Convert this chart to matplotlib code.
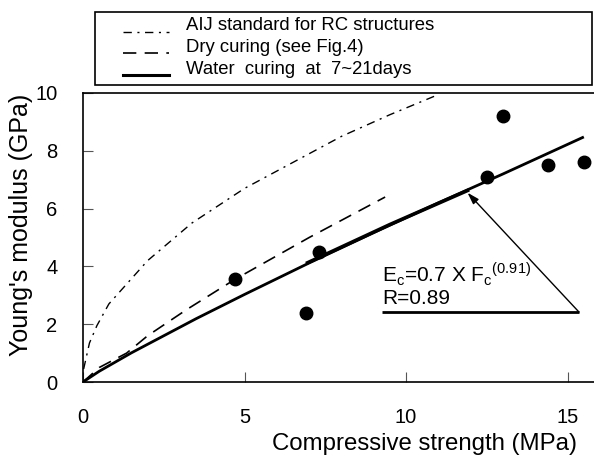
import matplotlib
matplotlib.use('Agg')
import matplotlib.pyplot as plt
from matplotlib.lines import Line2D
from matplotlib.patches import Rectangle

# measured points (compressive strength MPa, Young's modulus GPa)
strength = [4.7, 6.9, 7.3, 12.5, 13.0, 14.4, 15.5]
modulus = [3.55, 2.4, 4.5, 7.1, 9.2, 7.5, 7.6]

# AIJ standard curve
aij_x = [0.02, 0.2, 0.43, 0.8, 1.36, 2.0, 3.37, 5.0, 6.5, 8.0, 9.5, 10.9]
aij_y = [0.45, 1.35, 1.95, 2.7, 3.4, 4.2, 5.5, 6.7, 7.6, 8.5, 9.25, 9.9]

# dry curing curve
dry_x = [0, 0.5, 1.35, 2.0, 3.2, 4.7, 7.0, 9.35]
dry_y = [0, 0.5, 1.0, 1.6, 2.5, 3.55, 5.0, 6.4]

# water curing regression line
water_x = [0, 0.5, 1.5, 3.5, 5.0, 7.0, 9.0, 11.0, 13.0, 15.5]
water_y = [0, 0.37, 1.01, 2.19, 3.03, 4.12, 5.17, 6.2, 7.2, 8.48]
# overdrawn (thick) part of the regression line
thick_x = [6.9, 9.5, 11.95]
thick_y = [4.1, 5.45, 6.65]

legend_labels = ['AIJ standard for RC structures', 'Dry curing (see Fig.4)',
                 'Water  curing  at  7~21days']

eq_text = r'E$_\mathregular{c}$=0.7 X F$_\mathregular{c}$$^\mathregular{(0.91)}$'
r_text = 'R=0.89'
note_x, note_y1, note_y2 = 9.25, 3.46, 2.70
bar_x0, bar_x1, bar_y = 9.25, 15.35, 2.42
arrow_tip = (11.9, 6.55)

plt.rcParams['font.family'] = ['Liberation Sans', 'DejaVu Sans']

W, H = 594, 458
fig = plt.figure(figsize=(W / 100, H / 100), dpi=100)
ax = fig.add_axes([83 / W, (H - 382) / H, (600 - 83) / W, (382 - 93) / H])

ax.plot(aij_x, aij_y, color='black', lw=1.0, dashes=(6, 4, 1.5, 4))
ax.plot(dry_x, dry_y, color='black', lw=1.2, dashes=(8, 5))
ax.plot(water_x, water_y, color='black', lw=2.0, solid_capstyle='butt')
ax.plot(thick_x, thick_y, color='black', lw=2.6, solid_capstyle='butt')
ax.plot(strength, modulus, 'o', color='black', ms=9, clip_on=False)

ax.text(note_x, note_y1, eq_text, fontsize=15, va='baseline')
ax.text(note_x, note_y2, r_text, fontsize=15, va='baseline')
ax.plot([bar_x0, bar_x1], [bar_y, bar_y], color='black', lw=2.0, solid_capstyle='butt')
ax.annotate('', xy=arrow_tip, xytext=(bar_x1, bar_y),
            arrowprops=dict(arrowstyle='-|>,head_length=0.7,head_width=0.22',
                            color='black', lw=1.0, shrinkA=0, shrinkB=0))

ax.set_xlim(0, 16)
ax.set_ylim(0, 10)
ax.set_xticks([0, 5, 10, 15])
ax.set_yticks([0, 2, 4, 6, 8, 10])
ax.tick_params(direction='in', length=7, width=0.8, color='#555555', labelsize=14.5)
ax.tick_params(axis='x', pad=19)
ax.tick_params(axis='y', pad=18.5)
for s in ['left', 'bottom', 'top']:
    ax.spines[s].set_linewidth(1.2)
ax.spines['right'].set_visible(False)

ax.set_xlabel('Compressive strength (MPa)', fontsize=17.3, va='baseline')
ax.xaxis.set_label_coords((425 - 83) / (600 - 83), -(450 - 382) / (382 - 93))
ax.set_ylabel("Young's modulus (GPa)", fontsize=18)
ax.yaxis.set_label_coords(-(83 - 33) / (600 - 83), (382 - 225) / (382 - 93))

# legend box drawn in figure pixels
fig.patches.append(Rectangle((95 / W, 1 - 85 / H), (592 - 95) / W, (85 - 12.5) / H,
                             transform=fig.transFigure, fill=False, lw=1.2,
                             edgecolor='black'))
handle_styles = [dict(lw=1.0, dashes=(6, 4, 1.5, 4)), dict(lw=1.2, dashes=(8, 5)),
                 dict(lw=2.2)]
text_rows = [26, 48, 69]
line_rows = [32, 53, 75]
for label, st, ty, ly in zip(legend_labels, handle_styles, text_rows, line_rows):
    fig.lines.append(Line2D([123 / W, 169 / W], [1 - ly / H, 1 - ly / H],
                            transform=fig.transFigure, color='black', **st))
    fig.text(186 / W, 1 - ty / H, label, fontsize=13.3, va='center')

fig.savefig('out.png', dpi=100)
